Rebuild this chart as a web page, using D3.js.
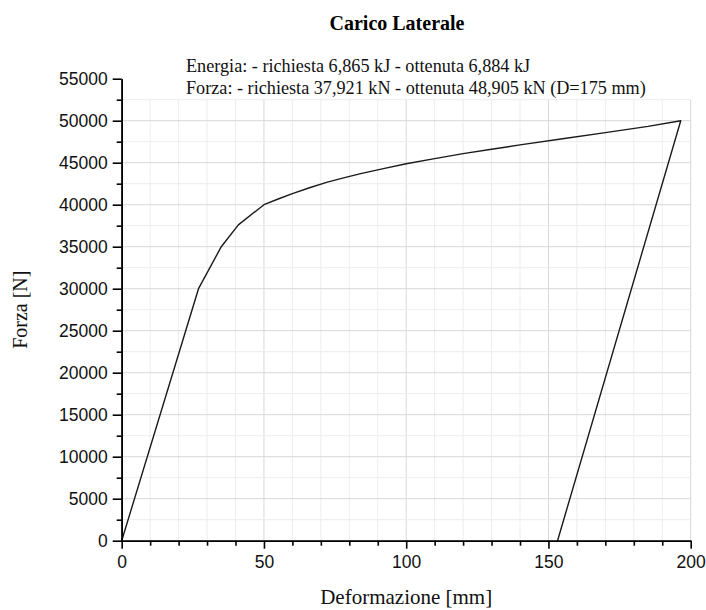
<!DOCTYPE html>
<html>
<head>
<meta charset="utf-8">
<script src="https://cdn.jsdelivr.net/npm/d3@7/dist/d3.min.js"></script>
<style>
  html, body { margin: 0; padding: 0; background: #fff; }
  svg { display: block; }
</style>
</head>
<body>
<svg id="chart" width="706" height="610"></svg>
<script>
// ---- data ----
const titleText = "Carico Laterale";
const noteLines = [
  "Energia: - richiesta 6,865 kJ - ottenuta 6,884 kJ",
  "Forza: - richiesta 37,921 kN - ottenuta 48,905 kN (D=175 mm)"
];
const xLabel = "Deformazione [mm]";
const yLabel = "Forza [N]";
const deformazione = [0, 27, 35, 41, 50, 55, 60, 66, 72, 78, 84, 92, 100, 110, 120, 130, 140, 155, 170, 185, 196.5, 153.2];
const forza = [0, 30000, 35000, 37600, 40000, 40680, 41320, 42020, 42650, 43200, 43700, 44300, 44870, 45480, 46080, 46600, 47120, 47850, 48580, 49320, 50000, 0];
const xTicks = [0, 50, 100, 150, 200];
const yTicks = [0, 5000, 10000, 15000, 20000, 25000, 30000, 35000, 40000, 45000, 50000, 55000];
const xMinor = d3.range(0, 201, 10);
const yMinor = d3.range(0, 52501, 2500);

// ---- layout ----
const svg = d3.select("#chart");
const mLeft = 121.7, mRight = 690.7, mTop = 78.7, mBottom = 540.7;
const x = d3.scaleLinear().domain([0, 200]).range([mLeft, mRight]);
const y = d3.scaleLinear().domain([0, 55000]).range([mBottom, mTop]);
const gridTop = 52500;

// grid
const grid = svg.append("g");
grid.selectAll("line.v").data(xMinor).join("line")
  .attr("x1", d => x(d)).attr("x2", d => x(d))
  .attr("y1", y(0)).attr("y2", y(gridTop))
  .attr("stroke", d => d % 50 === 0 ? "#d8d8d8" : "#ededed")
  .attr("stroke-width", 1);
grid.selectAll("line.h").data(yMinor).join("line")
  .attr("x1", x(0)).attr("x2", x(200))
  .attr("y1", d => y(d)).attr("y2", d => y(d))
  .attr("stroke", d => d % 5000 === 0 ? "#d8d8d8" : "#ededed")
  .attr("stroke-width", 1);

// curve
const pts = deformazione.map((d, i) => [d, forza[i]]);
svg.append("path")
  .datum(pts)
  .attr("fill", "none")
  .attr("stroke", "#1a1a1a")
  .attr("stroke-width", 1.4)
  .attr("stroke-linejoin", "round")
  .attr("d", d3.line().x(d => x(d[0])).y(d => y(d[1])));

// minor ticks
const xMinorAxis = d3.axisBottom(x).tickValues(xMinor.filter(v => v % 50 !== 0)).tickSize(5).tickSizeOuter(0).tickFormat("");
const yMinorAxis = d3.axisLeft(y).tickValues(d3.range(2500, 55000, 5000)).tickSize(5).tickSizeOuter(0).tickFormat("");
svg.append("g").attr("transform", `translate(0,${mBottom})`).call(xMinorAxis);
svg.append("g").attr("transform", `translate(${mLeft},0)`).call(yMinorAxis);

// major axes
const xAxis = d3.axisBottom(x).tickValues(xTicks).tickSize(8).tickSizeOuter(0).tickPadding(7).tickFormat(d3.format("d"));
const yAxis = d3.axisLeft(y).tickValues(yTicks).tickSize(9).tickSizeOuter(0).tickPadding(5).tickFormat(d3.format("d"));
svg.append("g").attr("transform", `translate(0,${mBottom})`).call(xAxis);
svg.append("g").attr("transform", `translate(${mLeft},0)`).call(yAxis);

svg.selectAll(".domain, .tick line").attr("stroke", "#000").attr("stroke-width", 1.6);
svg.selectAll(".tick text")
  .attr("font-family", "'Liberation Sans', Arial, sans-serif")
  .attr("font-size", 17.5)
  .attr("fill", "#111");

// title
svg.append("text")
  .attr("x", 397).attr("y", 30)
  .attr("text-anchor", "middle")
  .attr("font-family", "'Liberation Serif', 'Times New Roman', serif")
  .attr("font-weight", "bold")
  .attr("font-size", 20)
  .attr("fill", "#000")
  .text(titleText);

// notes
svg.append("g").selectAll("text").data(noteLines).join("text")
  .attr("x", 186)
  .attr("y", (d, i) => 72 + i * 21.5)
  .attr("font-family", "'Liberation Serif', 'Times New Roman', serif")
  .attr("font-size", 18.2)
  .attr("fill", "#111")
  .text(d => d);

// axis labels
svg.append("text")
  .attr("x", (mLeft + mRight) / 2).attr("y", 604)
  .attr("text-anchor", "middle")
  .attr("font-family", "'Liberation Serif', 'Times New Roman', serif")
  .attr("font-size", 21)
  .attr("fill", "#111")
  .text(xLabel);

svg.append("text")
  .attr("transform", `translate(27,${(mTop + mBottom) / 2}) rotate(-90)`)
  .attr("text-anchor", "middle")
  .attr("font-family", "'Liberation Serif', 'Times New Roman', serif")
  .attr("font-size", 20)
  .attr("fill", "#111")
  .text(yLabel);
</script>
</body>
</html>
